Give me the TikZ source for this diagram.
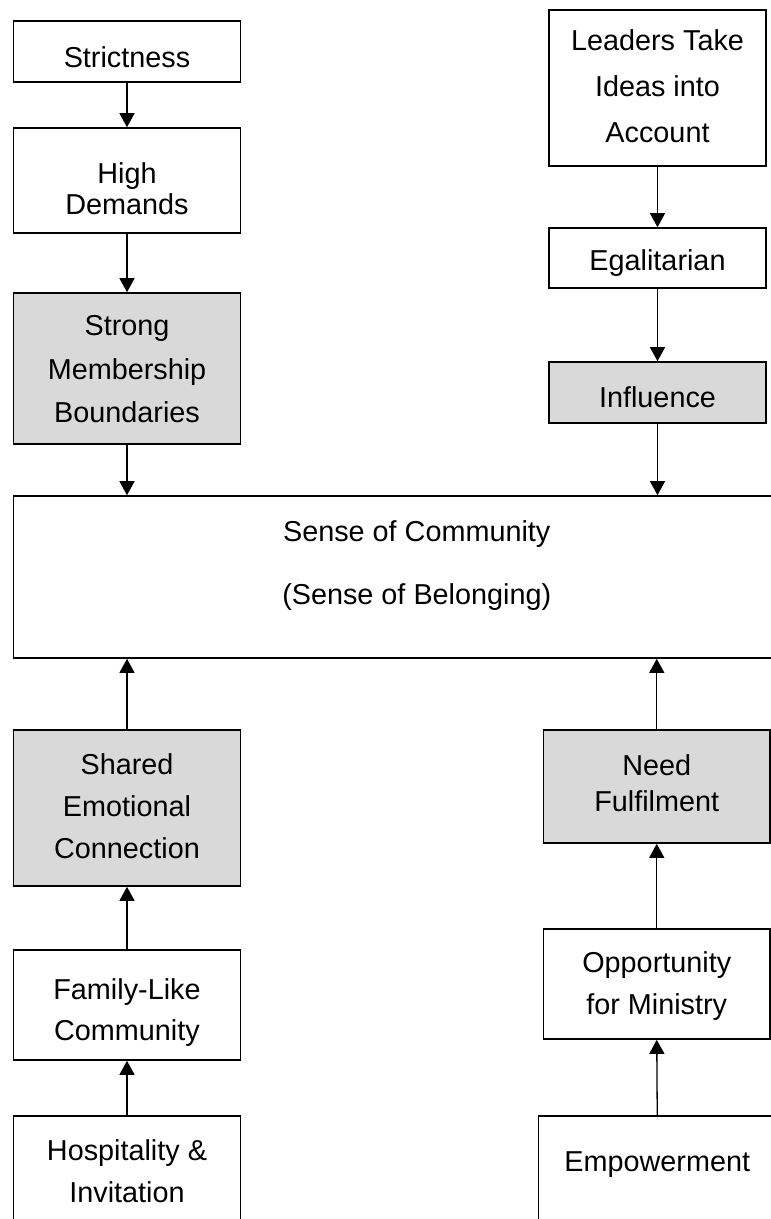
\documentclass[tikz,border=0pt]{standalone}
\usepackage{fontspec}
\setmainfont{Liberation Sans}
\usetikzlibrary{arrows.meta}
\definecolor{boxgray}{HTML}{D9D9D9}
\begin{document}
\begin{tikzpicture}[x=1pt,y=-1pt,
  box/.style={draw=black, line width=1.6pt, inner sep=0pt, rectangle},
  keybox/.style={box, fill=boxgray},
  lbl/.style={align=center, inner sep=0pt, font=\fontsize{28.8}{42}\selectfont},
  arr/.style={line width=1.3pt, -{Triangle[length=14pt,width=15pt]}}]
\useasboundingbox (0,0) rectangle (771,1219);
\fill[white] (0,0) rectangle (771,1219);
\clip (0,0) rectangle (771,1219);

% left column, top
\node[box, minimum width=227pt, minimum height=61pt]  (strict) at (127,51.5) {};
\node[box, minimum width=227pt, minimum height=105pt] (high)   at (127,180.5) {};
\node[keybox, minimum width=227pt, minimum height=151pt] (strong) at (127,368.5) {};

% right column, top
\node[box, minimum width=217pt, minimum height=156pt] (leaders) at (657.5,88) {};
\node[box, minimum width=217pt, minimum height=60pt]  (egal)    at (657.5,258) {};
\node[keybox, minimum width=217pt, minimum height=61pt] (infl)  at (657.5,392.5) {};

% central box
\node[box, minimum width=806.5pt, minimum height=162pt] (soc) at (416.75,577) {};

% left column, bottom
\node[keybox, minimum width=227pt, minimum height=156pt] (shared) at (127,808) {};
\node[box, minimum width=227pt, minimum height=110pt] (family) at (127,1005) {};
\node[box, minimum width=227pt, minimum height=144pt] (hosp)   at (127,1188) {};

% right column, bottom
\node[keybox, minimum width=226.5pt, minimum height=113pt] (need) at (656.75,786.5) {};
\node[box, minimum width=226.5pt, minimum height=110pt] (opp)  at (656.75,984) {};
\node[box, minimum width=237.5pt, minimum height=144pt] (emp)  at (657.25,1188) {};

% labels
\node[lbl, anchor=base] (tstrict) at (127,67) {Strictness};
\node[lbl, font=\fontsize{28.8}{31}\selectfont] (thigh) at (127,189) {High\\Demands};
\node[lbl, font=\fontsize{28.8}{43.5}\selectfont] (tstrong) at (127,369.5) {Strong\\Membership\\Boundaries};
\node[lbl, font=\fontsize{28.8}{46}\selectfont] (tleaders) at (657.5,86) {Leaders Take\\Ideas into\\Account};
\node[lbl, anchor=base] (tegal) at (657.5,270) {Egalitarian};
\node[lbl, anchor=base] (tinfl) at (657.5,407.5) {Influence};
\node[lbl, font=\fontsize{28.8}{63}\selectfont] (tsoc) at (416.75,566) {Sense of Community\\(Sense of Belonging)};
\node[lbl] (tshared) at (127,805.7) {Shared\\Emotional\\Connection};
\node[lbl, font=\fontsize{28.8}{41}\selectfont] (tfamily) at (127,1012.5) {Family-Like\\Community};
\node[lbl] (thosp) at (127,1171) {Hospitality \&\\Invitation};
\node[lbl, font=\fontsize{28.8}{36}\selectfont] (tneed) at (656.75,783) {Need\\Fulfilment};
\node[lbl] (topp) at (656.75,986) {Opportunity\\for Ministry};
\node[lbl, anchor=base] (temp) at (657.25,1171.7) {Empowerment};

% connectors
\draw[arr] (strict.south) -- (high.north);
\draw[arr] (high.south) -- (strong.north);
\draw[arr] (strong.south) -- (strong.south |- soc.north);
\draw[arr] (leaders.south) -- (egal.north);
\draw[arr] (egal.south) -- (infl.north);
\draw[arr] (infl.south) -- (infl.south |- soc.north);
\draw[arr] (shared.north) -- (shared.north |- soc.south);
\draw[arr] (family.north) -- (shared.south);
\draw[arr] (hosp.north) -- (family.south);
\draw[arr] (need.north) -- (need.north |- soc.south);
\draw[arr] (opp.north) -- (need.south);
\draw[arr] (emp.north) -- (opp.south);
\end{tikzpicture}
\end{document}
